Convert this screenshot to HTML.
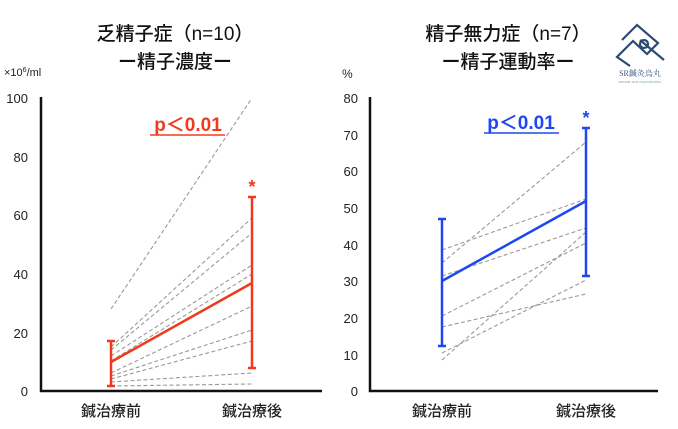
<!DOCTYPE html>
<html><head><meta charset="utf-8"><style>
html,body{margin:0;padding:0;background:#fff;}
svg{display:block;font-family:"Liberation Sans","Noto Sans CJK JP",sans-serif;}
</style></head><body>
<svg width="678" height="429" viewBox="0 0 678 429">
<g font-size="19" fill="#111" text-anchor="middle" font-weight="500" font-family="'Liberation Sans','Noto Sans CJK JP',sans-serif">
<text x="175" y="40">乏精子症（n=10）</text>
<text x="175" y="68">ー精子濃度ー</text>
<text x="508" y="40">精子無力症（n=7）</text>
<text x="508" y="68">ー精子運動率ー</text>
</g>
<!-- logo -->
<g stroke="#2c4a74" stroke-width="2.2" fill="none">
<path d="M622 40 L637 25 L658 43 L647 54 L633 41 L617 57 L630 66"/>
<path d="M640 40 L664 60"/>
<circle cx="644" cy="44" r="4"/>
</g>
<text x="640" y="76" font-size="8" fill="#3a5a85" text-anchor="middle" font-family="'Liberation Serif','Noto Serif CJK SC',serif">SR鍼灸烏丸</text>
<text x="640" y="83" font-size="4" fill="#8aa" text-anchor="middle">sexual and reproduction</text>

<!-- left chart -->
<text x="4" y="76" font-size="11" fill="#222">×10<tspan font-size="7" dy="-4">6</tspan><tspan dy="4">/ml</tspan></text>
<g font-size="13" fill="#222" text-anchor="end">
<text x="28" y="103">100</text><text x="28" y="162">80</text><text x="28" y="220">60</text><text x="28" y="279">40</text><text x="28" y="338">20</text><text x="28" y="396">0</text>
</g>
<path d="M41 97 V391 H322" stroke="#111" stroke-width="2.5" fill="none"/>
<g stroke="#999" stroke-width="1.1" stroke-dasharray="4,2.5" fill="none">
<line x1="111" y1="309" x2="252" y2="98"/>
<line x1="111" y1="347" x2="252" y2="218"/>
<line x1="111" y1="350" x2="252" y2="233"/>
<line x1="111" y1="356" x2="252" y2="265"/>
<line x1="111" y1="361" x2="252" y2="274"/>
<line x1="111" y1="373" x2="252" y2="306"/>
<line x1="111" y1="376" x2="252" y2="330"/>
<line x1="111" y1="379" x2="252" y2="341"/>
<line x1="111" y1="382" x2="252" y2="373"/>
<line x1="111" y1="386" x2="252" y2="384"/>
</g>
<g stroke="#f03a1e" stroke-width="2.5" fill="none">
<line x1="111" y1="341" x2="111" y2="386"/><line x1="107" y1="341" x2="115" y2="341"/><line x1="107" y1="386" x2="115" y2="386"/>
<line x1="252" y1="197" x2="252" y2="368"/><line x1="248" y1="197" x2="256" y2="197"/><line x1="248" y1="368" x2="256" y2="368"/>
<line x1="111" y1="362" x2="252" y2="283"/>
</g>
<text x="252" y="193" font-size="18" font-weight="bold" fill="#f03a1e" text-anchor="middle">*</text>
<text x="188" y="131" font-size="19" font-weight="bold" fill="#f03a1e" text-anchor="middle">p＜0.01</text>
<line x1="150" y1="135" x2="225" y2="135" stroke="#f03a1e" stroke-width="1.5"/>
<g font-size="15" fill="#222" text-anchor="middle" font-weight="500">
<text x="111" y="416">鍼治療前</text><text x="252" y="416">鍼治療後</text>
<text x="442" y="416">鍼治療前</text><text x="586" y="416">鍼治療後</text>
</g>

<!-- right chart -->
<text x="342" y="78" font-size="12" fill="#222">%</text>
<g font-size="13" fill="#222" text-anchor="end">
<text x="358" y="103">80</text><text x="358" y="140">70</text><text x="358" y="176">60</text><text x="358" y="213">50</text><text x="358" y="250">40</text><text x="358" y="286">30</text><text x="358" y="323">20</text><text x="358" y="360">10</text><text x="358" y="396">0</text>
</g>
<path d="M370 97 V391 H658" stroke="#111" stroke-width="2.5" fill="none"/>
<g stroke="#999" stroke-width="1.1" stroke-dasharray="4,2.5" fill="none">
<line x1="442" y1="250" x2="586" y2="199"/>
<line x1="442" y1="263" x2="586" y2="142"/>
<line x1="442" y1="276" x2="586" y2="228"/>
<line x1="442" y1="316" x2="586" y2="243"/>
<line x1="442" y1="327" x2="586" y2="294"/>
<line x1="442" y1="353" x2="586" y2="280"/>
<line x1="442" y1="360" x2="586" y2="232"/>
</g>
<g stroke="#1f47f0" stroke-width="2.5" fill="none">
<line x1="442" y1="219" x2="442" y2="346"/><line x1="438" y1="219" x2="446" y2="219"/><line x1="438" y1="346" x2="446" y2="346"/>
<line x1="586" y1="128" x2="586" y2="276"/><line x1="582" y1="128" x2="590" y2="128"/><line x1="582" y1="276" x2="590" y2="276"/>
<line x1="442" y1="281" x2="586" y2="201"/>
</g>
<text x="586" y="124" font-size="18" font-weight="bold" fill="#1f47f0" text-anchor="middle">*</text>
<text x="521" y="129" font-size="19" font-weight="bold" fill="#1f47f0" text-anchor="middle">p＜0.01</text>
<line x1="484" y1="133" x2="559" y2="133" stroke="#1f47f0" stroke-width="1.5"/>
</svg>
</body></html>
